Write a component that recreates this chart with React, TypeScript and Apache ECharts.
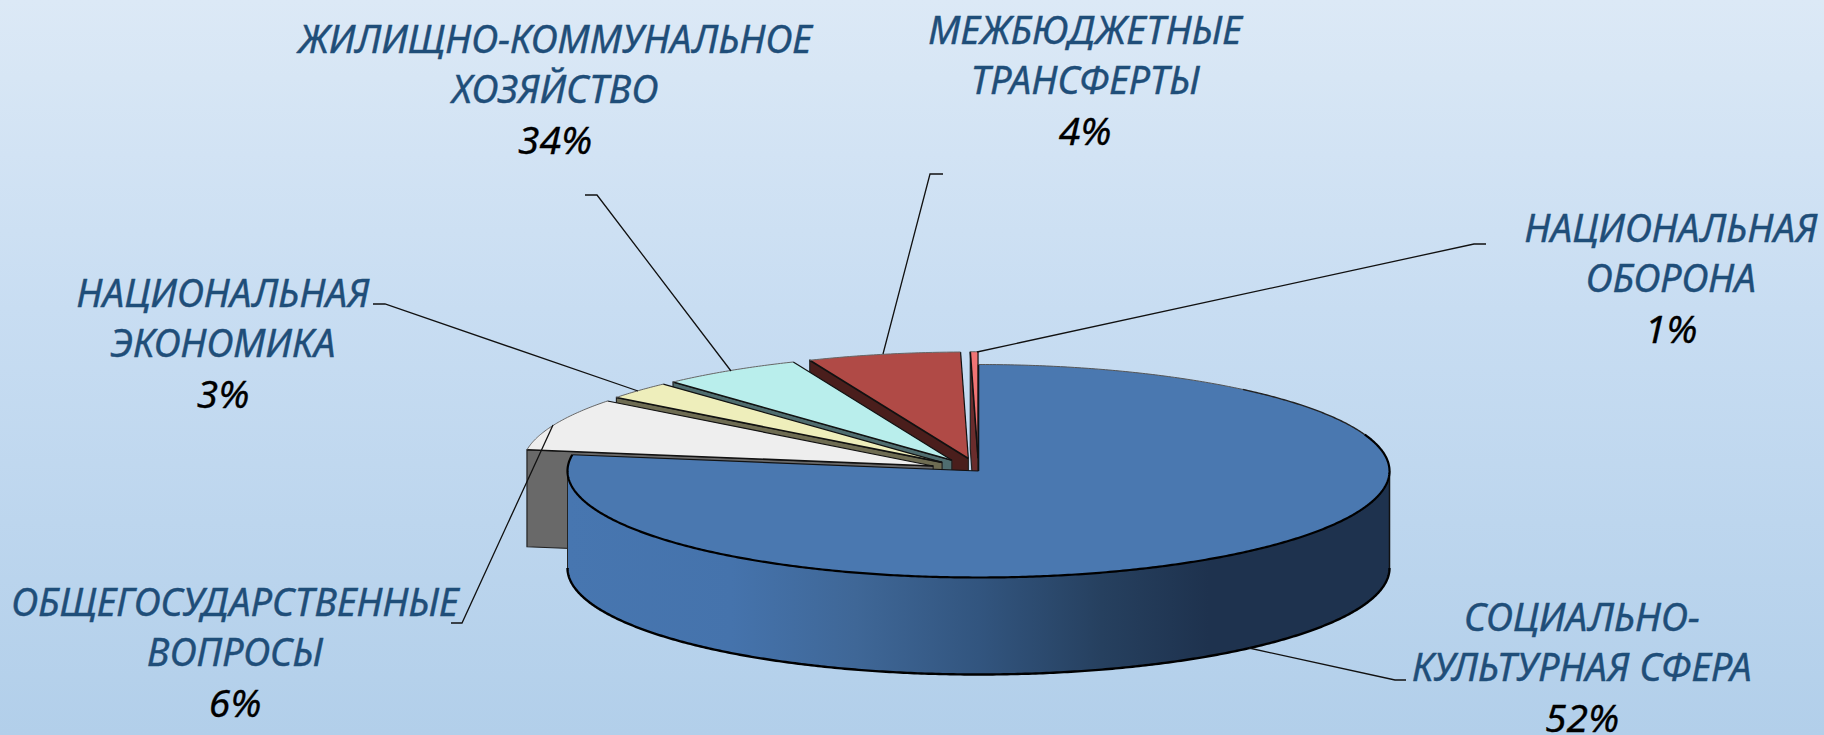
import React, { useEffect, useRef } from "react";
import * as echarts from "echarts";

// Clockwise from 12 o'clock
const categoryLines = [
  ["СОЦИАЛЬНО-", "КУЛЬТУРНАЯ СФЕРА"],
  ["ОБЩЕГОСУДАРСТВЕННЫЕ", "ВОПРОСЫ"],
  ["НАЦИОНАЛЬНАЯ", "ЭКОНОМИКА"],
  ["ЖИЛИЩНО-КОММУНАЛЬНОЕ", "ХОЗЯЙСТВО"],
  ["МЕЖБЮДЖЕТНЫЕ", "ТРАНСФЕРТЫ"],
  ["НАЦИОНАЛЬНАЯ", "ОБОРОНА"],
];
const printedPercents = ["52%", "6%", "3%", "34%", "4%", "1%"];
const drawnShares = [77.39, 8.0, 2.69, 5.56, 6.0, 0.3];
const explodes = [0, 0.12, 0.12, 0.12, 0.12, 0.12];

const topColors = ["#4a78b0", "#eeeeee", "#eeeebb", "#b9eeec", "#b04a46", "#f07474"];
const sideColors = ["#4776b0", "#696969", "#6e6c52", "#4f6d6f", "#4a1e1c", "#6a2c2c"];

const CX = 978.5, CY = 471, RX = 411, RY = 106.5, DEPTH = 97;
const labelCenters = [[1582, 616], [235, 601], [223, 292], [555, 38], [1085, 29], [1671, 227]];
const LINE_STEP = 50;
const leaders = [
  [[1406, 680], [1395, 680], [1249, 648]],
  [[451, 623], [462, 623], [553, 425]],
  [[373, 304], [385, 304], [638, 391]],
  [[585, 195], [597, 195], [731, 371]],
  [[943, 174], [930, 174], [883, 354]],
  [[1486, 244], [1474, 244], [977, 352]],
];
const NAME_FONT = "italic 39px 'Noto Sans'";
const PCT_FONT = "italic 39px 'Noto Sans'";
const NAME_SQUEEZE = 0.988;

const total = drawnShares.reduce((a, b) => a + b, 0);
let acc = 0;
const wedges = drawnShares.map((v, i) => {
  const s = (acc / total) * 360;
  acc += v;
  return [s, (acc / total) * 360, explodes[i], i];
});

const rad = (d: number) => (d * Math.PI) / 180;

function renderItem(_: any, api: any) {
  const start = api.value(0), end = api.value(1), e = api.value(2), idx = api.value(3);
  const mid = (start + end) / 2;
  const ax = CX + e * RX * Math.sin(rad(mid));
  const ay = CY - e * RY * Math.cos(rad(mid));
  const pt = (t: number, d = 0) => [ax + RX * Math.sin(rad(t)), ay - RY * Math.cos(rad(t)) + d];
  const arc = (a: number, b: number, d = 0) => {
    const n = Math.max(2, Math.ceil(Math.abs(b - a) / 0.5));
    const out: number[][] = [];
    for (let k = 0; k <= n; k++) out.push(pt(a + ((b - a) * k) / n, d));
    return out;
  };
  const children: any[] = [];
  if (idx === 0) {
    const fr = arc(90, 270);
    const side = fr.concat(arc(270, 90, DEPTH));
    children.push({
      type: "polygon",
      shape: { points: side },
      style: {
        fill: new echarts.graphic.LinearGradient(0, 0, 1, 0, [
          { offset: 0, color: "#4776b0" },
          { offset: 0.2, color: "#4573ac" },
          { offset: 0.35, color: "#3f6797" },
          { offset: 0.5, color: "#32557f" },
          { offset: 0.65, color: "#26405f" },
          { offset: 0.78, color: "#1e324e" },
          { offset: 1, color: "#1e324e" },
        ]),
      },
    });
    children.push({ type: "polyline", shape: { points: arc(90, 270, DEPTH) }, style: { stroke: "#000", lineWidth: 2.4, fill: null } });
    children.push({ type: "line", shape: { x1: CX + RX, y1: CY, x2: CX + RX, y2: CY + DEPTH }, style: { stroke: "#111", lineWidth: 1.5 } });
    children.push({ type: "line", shape: { x1: CX - RX, y1: CY, x2: CX - RX, y2: CY + DEPTH }, style: { stroke: "#222", lineWidth: 1 } });
  } else {
    const o = pt(start);
    children.push({
      type: "polygon",
      shape: { points: [o, [ax, ay], [ax, ay + DEPTH], [o[0], o[1] + DEPTH]] },
      style: { fill: sideColors[idx], stroke: "#222", lineWidth: 1.2 },
    });
  }
  children.push({
    type: "polygon",
    shape: { points: [[ax, ay]].concat(arc(start, end)) },
    style: { fill: topColors[idx] },
  });
  const p0 = pt(start), p1 = pt(end);
  children.push({ type: "line", shape: { x1: ax, y1: ay, x2: p0[0], y2: p0[1] }, style: { stroke: "#111", lineWidth: 1.6 } });
  children.push({ type: "line", shape: { x1: ax, y1: ay, x2: p1[0], y2: p1[1] }, style: { stroke: "#111", lineWidth: 1.2 } });
  if (idx === 0) {
    children.push({ type: "polyline", shape: { points: arc(0, 40) }, style: { stroke: "#555", lineWidth: 1, fill: null } });
    children.push({ type: "polyline", shape: { points: arc(40, 70) }, style: { stroke: "#222", lineWidth: 1.4, fill: null } });
    children.push({ type: "polyline", shape: { points: arc(70, end) }, style: { stroke: "#000", lineWidth: 2.2, fill: null } });
  } else {
    children.push({ type: "polyline", shape: { points: arc(start, end) }, style: { stroke: "#666", lineWidth: 1, fill: null } });
  }
  return { type: "group", children };
}

export default function App() {
  const ref = useRef<HTMLDivElement>(null);
  useEffect(() => {
    document.body.style.margin = "0";
    document.body.style.overflow = "hidden";
    const chart = echarts.init(ref.current!, undefined, { renderer: "svg" });
    const graphics: any[] = [];
    leaders.forEach((pts) => {
      graphics.push({
        type: "polyline",
        z: 10,
        shape: { points: pts },
        style: { stroke: "#111", lineWidth: 1.3, fill: null },
      });
    });
    categoryLines.forEach((lines, i) => {
      const [cx, cy] = labelCenters[i];
      lines.forEach((t, k) => {
        graphics.push({
          type: "text",
          z: 11,
          x: cx,
          y: cy + k * LINE_STEP,
          scaleX: NAME_SQUEEZE,
          style: { text: t, x: 0, y: 0, font: NAME_FONT, lineHeight: 30, fill: "#1f4e79", stroke: "#1f4e79", lineWidth: 0.4, textAlign: "center", verticalAlign: "middle", textVerticalAlign: "middle" },
        });
      });
      graphics.push({
        type: "text",
        z: 11,
        style: { text: printedPercents[i], x: cx, y: cy + 2 * LINE_STEP, font: PCT_FONT, lineHeight: 30, fill: "#000", stroke: "#000", lineWidth: 0.3, textAlign: "center", verticalAlign: "middle", textVerticalAlign: "middle" },
      });
    });
    chart.setOption({
      animation: false,
      backgroundColor: new echarts.graphic.LinearGradient(0, 0, 0, 1, [
        { offset: 0, color: "#dce9f6" },
        { offset: 0.42, color: "#c8ddf2" },
        { offset: 1, color: "#b2cfea" },
      ]),
      series: [
        {
          type: "custom",
          coordinateSystem: "none",
          silent: true,
          clip: false,
          renderItem,
          data: wedges.slice().reverse(),
        },
      ],
      graphic: graphics,
    });
    return () => chart.dispose();
  }, []);
  return <div ref={ref} style={{ position: "fixed", left: 0, top: 0, width: 1824, height: 735 }} />;
}
